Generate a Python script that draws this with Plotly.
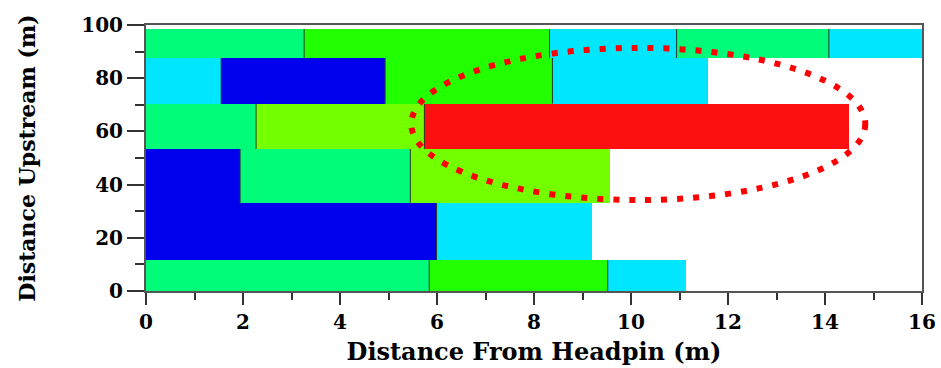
import plotly.graph_objects as go

# Row boundaries (m upstream)
row_bottoms = [0.0, 11.7, 33.0, 53.4, 70.4, 87.6]
row_tops = [11.7, 33.0, 53.4, 70.4, 87.6, 98.5]

# Segments per row: start, end (m from headpin), colour class
seg_row = [0, 0, 0,
           1, 1,
           2, 2, 2,
           3, 3, 3,
           4, 4, 4, 4,
           5, 5, 5, 5, 5]
seg_start = [0.0, 5.84, 9.52,
             0.0, 5.99,
             0.0, 1.94, 5.45,
             0.0, 2.27, 5.74,
             0.0, 1.55, 4.93, 8.38,
             0.0, 3.26, 8.32, 10.94, 14.08]
seg_end = [5.84, 9.52, 11.13,
           5.99, 9.20,
           1.94, 5.45, 9.56,
           2.27, 5.74, 14.49,
           1.55, 4.93, 8.38, 11.58,
           3.26, 8.32, 10.94, 14.08, 16.0]
seg_class = ["SG", "BG", "CY",
             "BL", "CY",
             "BL", "SG", "YG",
             "SG", "YG", "RD",
             "CY", "BL", "BG", "CY",
             "SG", "BG", "CY", "SG", "CY"]

palette = {"SG": "#00FC78", "BG": "#22FF00", "YG": "#74FF00",
           "CY": "#00E6FF", "BL": "#0000EC", "RD": "#FF1010"}

# Highlight ellipse (data units)
ellipse_x = [5.47, 14.83]
ellipse_y = [34.2, 91.4]

x_ticks = [0, 2, 4, 6, 8, 10, 12, 14, 16]
y_ticks = [0, 20, 40, 60, 80, 100]

centers = [(row_bottoms[r] + row_tops[r]) / 2 for r in seg_row]
heights = [row_tops[r] - row_bottoms[r] for r in seg_row]
lengths = [e - s for s, e in zip(seg_start, seg_end)]
colors = [palette[c] for c in seg_class]

fig = go.Figure()
fig.add_trace(go.Bar(
    orientation="h", y=centers, x=lengths, base=seg_start, width=heights,
    marker=dict(color=colors, line=dict(width=0)), hoverinfo="skip"))

sx, sy = [], []
for r, s in zip(seg_row, seg_start):
    if s > 0:
        sx += [s, s, None]
        sy += [row_bottoms[r], row_tops[r], None]
fig.add_trace(go.Scatter(x=sx, y=sy, mode="lines",
                         line=dict(color="#2a3a2a", width=1), hoverinfo="skip"))

fig.add_shape(type="circle", xref="x", yref="y",
              x0=ellipse_x[0], x1=ellipse_x[1], y0=ellipse_y[0], y1=ellipse_y[1],
              line=dict(color="#FF0000", width=6, dash="6px,10px"))

font_family = "DejaVu Serif"
axis_common = dict(showline=True, linecolor="#555555", linewidth=2, mirror=True,
                   showgrid=False, zeroline=False, ticks="outside",
                   tickcolor="#333333", tickwidth=2, automargin=False,
                   tickfont=dict(family=font_family, size=20, color="black", weight="bold"))

fig.update_layout(
    width=941, height=368,
    margin=dict(l=146, r=19, t=25, b=77),
    paper_bgcolor="white", plot_bgcolor="white",
    showlegend=False, barmode="overlay", bargap=0,
    xaxis=dict(range=[0, 16], tickvals=x_ticks, ticklen=12,
               minor=dict(dtick=1, tick0=0, ticks="outside", ticklen=7,
                          tickcolor="#333333", tickwidth=2),
               title=dict(text="Distance From Headpin (m)", standoff=10,
                          font=dict(family=font_family, size=24, color="black", weight="bold")),
               **axis_common),
    yaxis=dict(range=[0, 100], tickvals=y_ticks, ticklen=17,
               minor=dict(dtick=10, tick0=0, ticks="outside", ticklen=9,
                          tickcolor="#333333", tickwidth=2),
               title=dict(text="Distance Upstream (m)", standoff=40,
                          font=dict(family=font_family, size=22, color="black", weight="bold")),
               **axis_common),
)

fig.write_html("out.html")
